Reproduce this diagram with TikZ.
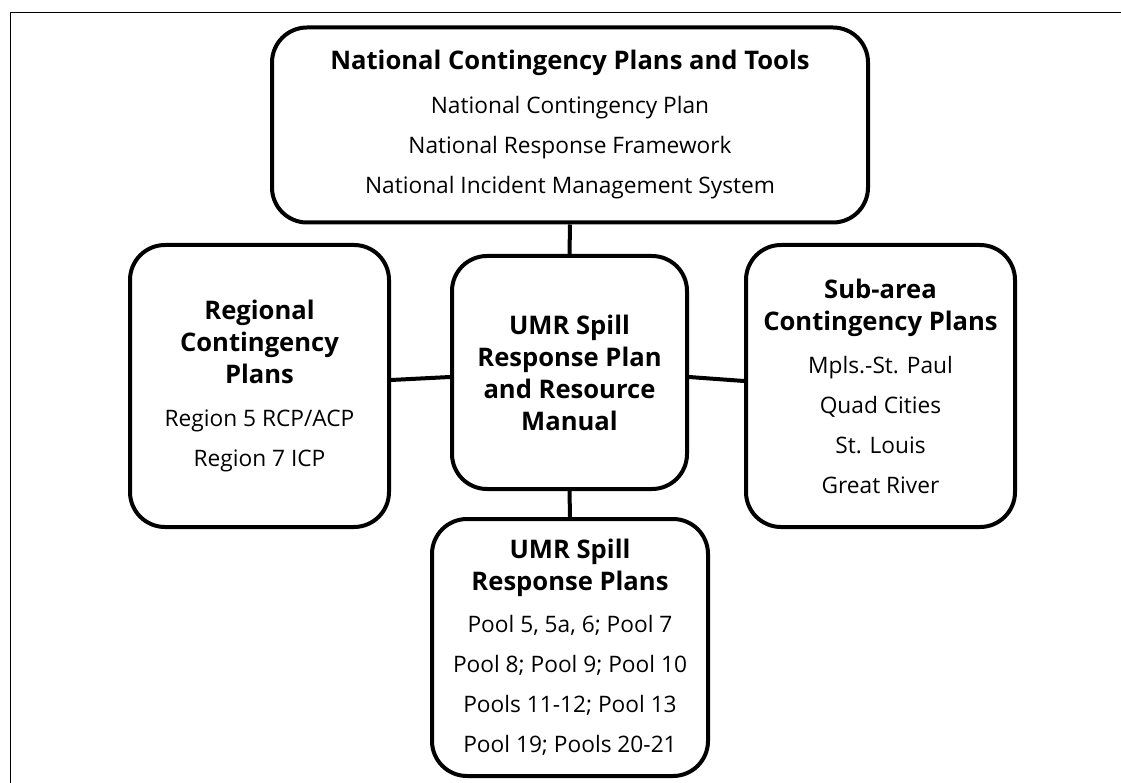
\documentclass[tikz,border=0pt]{standalone}
\usepackage{fontspec}
\setmainfont{Open Sans}
\usepackage{tikz}
\def\hd#1{{\fontsize{25.6}{32}\selectfont\bfseries #1}}
\tikzset{
  plan/.style={draw, line width=4pt, rounded corners=35pt, inner sep=0pt,
    align=center, font=\fontsize{22.7}{32}\selectfont},
  link/.style={line width=4pt}
}

\begin{document}
\begin{tikzpicture}[x=1pt,y=-1pt]
  \useasboundingbox (0,0) rectangle (1121,783);
  \draw[line width=1.5pt] (10.7,783) |- (1121,12.5);
  \node[plan, minimum width=596pt, minimum height=195pt] (nat) at (570,125)
    {\hd{National Contingency Plans and Tools}\\[12pt]
     National Contingency Plan\\[8pt]
     National Response Framework\\[8pt]
     National Incident Management System};
  \node[plan, minimum width=235pt, minimum height=233pt] (umr) at (569.5,372.5)
    {\hd{UMR Spill}\\\hd{Response Plan}\\\hd{and Resource}\\\hd{Manual}};
  \node[plan, minimum width=259pt, minimum height=282pt] (rcp) at (259.5,386)
    {\hd{Regional}\\\hd{Contingency}\\\hd{Plans}\\[11pt]
     Region 5 RCP/ACP\\[8pt]
     Region 7 ICP};
  \node[plan, minimum width=269pt, minimum height=282pt] (acp) at (880.5,386)
    {\hd{Sub-area}\\\hd{Contingency Plans}\\[11pt]
     Mpls.-St. Paul\\[8pt]
     Quad Cities\\[8pt]
     St. Louis\\[8pt]
     Great River};
  \node[plan, minimum width=276pt, minimum height=257pt] (pools) at (570,647.5)
    {\hd{UMR Spill}\\\hd{Response Plans}\\[10pt]
     Pool 5, 5a, 6; Pool 7\\[8pt]
     Pool 8; Pool 9; Pool 10\\[8pt]
     Pools 11-12; Pool 13\\[8pt]
     Pool 19; Pools 20-21};
  \draw[link] (nat.south) -- (umr.north);
  \draw[link] ([yshift=-4.5pt]umr.west) -- ([yshift=6pt]rcp.east);
  \draw[link] ([yshift=-4.5pt]umr.east) -- ([yshift=5pt]acp.west);
  \draw[link] (umr.south) -- (pools.north);
\end{tikzpicture}
\end{document}
